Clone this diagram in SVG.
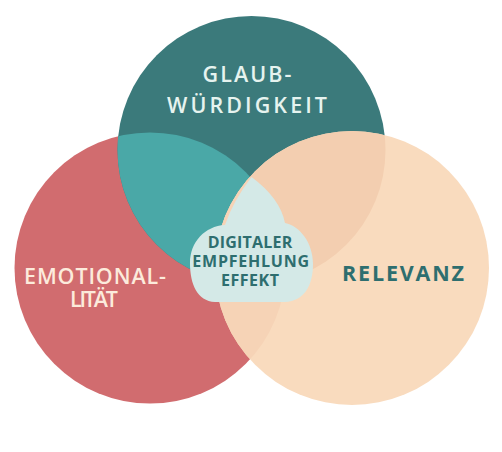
<svg xmlns="http://www.w3.org/2000/svg" width="502" height="452" viewBox="0 0 502 452">
<defs>
<clipPath id="clipLeft"><circle cx="150" cy="268" r="135.5"/></clipPath>
<clipPath id="clipRight"><circle cx="352" cy="268" r="137"/></clipPath>
</defs>
<style>
text{font-family:"Open Sans","Liberation Sans",sans-serif;text-anchor:middle}
.big{font-size:21.5px}
.light{fill:#e6f3ef;font-weight:600}
.cream{fill:#fcebdc;font-weight:600}
.dark{fill:#2e6e6f;font-weight:700}
.small{font-size:16px}
</style>
<rect width="502" height="452" fill="#ffffff"/>
<g id="emotionalitaet">
<circle cx="150" cy="268" r="135.5" fill="#d16c6f"/>
<text class="big cream" x="95" y="284" textLength="142">EMOTIONAL-</text>
<text class="big cream" x="94" y="307" textLength="48">LITÄT</text>
</g>
<g id="glaubwuerdigkeit">
<circle cx="251.5" cy="150" r="134" fill="#3b7a7b"/>
<circle cx="251.5" cy="150" r="134" fill="#4aa8a7" clip-path="url(#clipLeft)"/>
<text class="big light" x="247" y="82" textLength="89">GLAUB-</text>
<text class="big light" x="247" y="113" textLength="160">WÜRDIGKEIT</text>
</g>
<g id="relevanz">
<circle cx="352" cy="268" r="137" fill="#f9dbbe"/>
<circle cx="251.5" cy="150" r="134" fill="#f3ceb0" clip-path="url(#clipRight)"/>
<circle cx="150" cy="268" r="135.5" fill="#f6d3b6" clip-path="url(#clipRight)"/>
<text class="big dark" x="403" y="281" textLength="122">RELEVANZ</text>
</g>
<g id="digitaler-empfehlungseffekt">
<path d="M251.5,177 Q280,198 285,223 C300,226 313,243 313,264 C313,286 304,301 285,302 L215,302 C197,301 190,284 190,263 C190,242 205,226 225,225 Q233,201 251.5,177 Z" fill="#d4e9e7"/>
<text class="small dark" x="250" y="247.5" textLength="84.6">DIGITALER</text>
<text class="small dark" x="250.7" y="267" textLength="116.7">EMPFEHLUNG</text>
<text class="small dark" x="250" y="286" textLength="58">EFFEKT</text>
</g>
<g id="connectors"/>
</svg>
